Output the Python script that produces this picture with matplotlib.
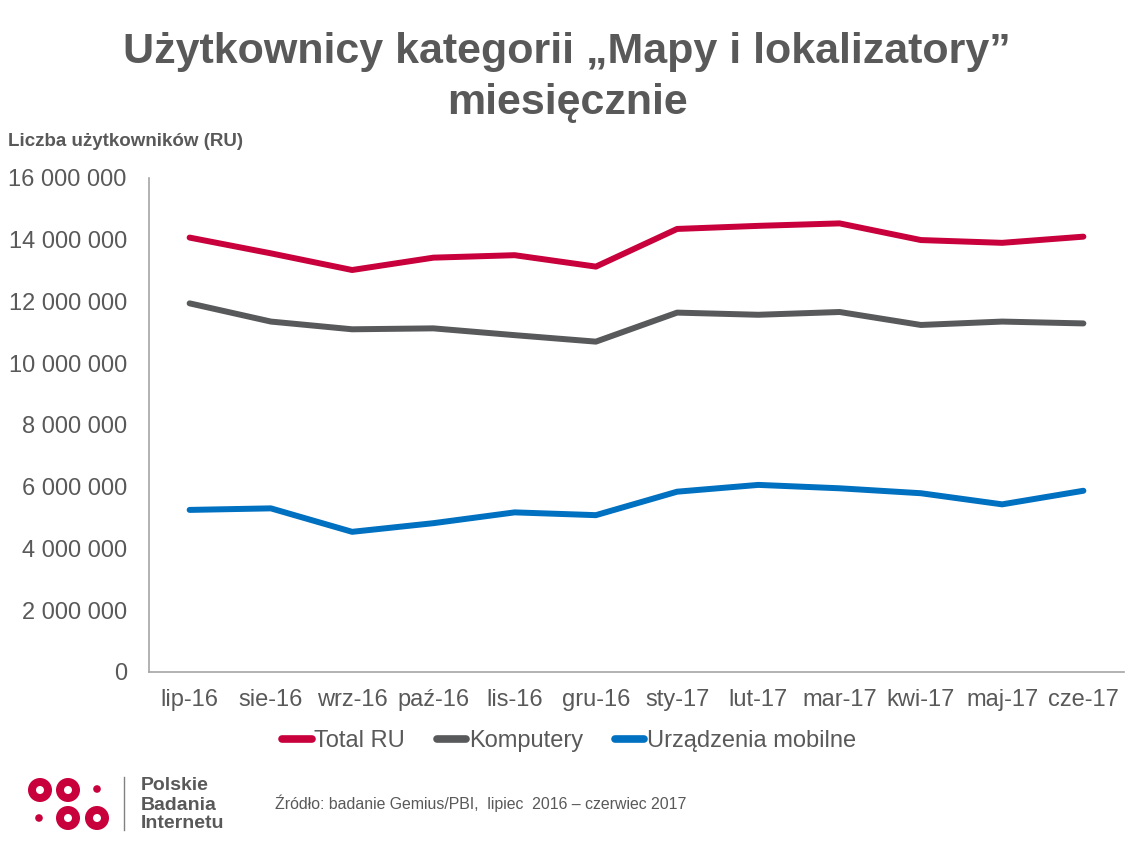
import matplotlib
matplotlib.use("Agg")
import matplotlib.pyplot as plt
from matplotlib.patches import Circle
from matplotlib.lines import Line2D
from matplotlib.ticker import FuncFormatter, MultipleLocator

months = ["lip-16", "sie-16", "wrz-16", "paź-16", "lis-16", "gru-16",
          "sty-17", "lut-17", "mar-17", "kwi-17", "maj-17", "cze-17"]
total_ru = [14.07, 13.56, 13.02, 13.42, 13.50, 13.13,
            14.35, 14.45, 14.53, 13.99, 13.90, 14.10]
komputery = [11.94, 11.35, 11.10, 11.13, 10.91, 10.70,
             11.64, 11.57, 11.66, 11.24, 11.35, 11.29]
mobilne = [5.25, 5.30, 4.54, 4.82, 5.17, 5.08,
           5.84, 6.06, 5.95, 5.79, 5.43, 5.87]
series_names = ["Total RU", "Komputery", "Urządzenia mobilne"]
colors = ["#C8003C", "#58595B", "#0070C0"]

plt.rcParams['font.family'] = ['Liberation Sans', 'DejaVu Sans']
TXT = "#595959"

W, H = 1136, 852
fig = plt.figure(figsize=(W / 100, H / 100), dpi=100)
ax = fig.add_axes([149 / W, 1 - 672 / H, (1124 - 149) / W, (672 - 178) / H])

x = list(range(len(months)))
for vals, c, n in zip([total_ru, komputery, mobilne], colors, series_names):
    ax.plot(x, [v * 1e6 for v in vals], color=c, lw=4.3, label=n,
            solid_capstyle="round", solid_joinstyle="round")

ax.set_xlim(-0.5, len(months) - 0.5)
ax.set_ylim(0, 16e6)
ax.yaxis.set_major_locator(MultipleLocator(2e6))
ax.yaxis.set_major_formatter(FuncFormatter(lambda v, p: f"{int(v):,}".replace(",", " ")))
ax.set_xticks(x)
ax.set_xticklabels(months)
for s in ["top", "right"]:
    ax.spines[s].set_visible(False)
for s in ["left", "bottom"]:
    ax.spines[s].set_color("#A6A6A6")
    ax.spines[s].set_linewidth(1.2)
ax.tick_params(axis="both", length=0, labelsize=17, colors=TXT)
ax.tick_params(axis="y", pad=16)
ax.tick_params(axis="x", pad=12)

handles = [Line2D([0], [0], color=c, lw=5.5, solid_capstyle="round") for c in colors]
leg = fig.legend(handles, series_names, loc="center", bbox_to_anchor=(569 / W, 1 - 741 / H),
                 ncol=3, frameon=False, fontsize=17, handlelength=1.25, handletextpad=0.1,
                 columnspacing=1.35)
for t in leg.get_texts():
    t.set_color(TXT)

fig.text(567 / W, 1 - 52 / H, "Użytkownicy kategorii „Mapy i lokalizatory”", ha="center",
         va="center", fontsize=31, fontweight="bold", color=TXT)
fig.text(567 / W, 1 - 103 / H, "miesięcznie", ha="center", va="center", fontsize=31,
         fontweight="bold", color=TXT)
fig.text(8 / W, 1 - 141 / H, "Liczba użytkowników (RU)", ha="left", va="center",
         fontsize=13.5, fontweight="bold", color=TXT)
fig.text(275 / W, 1 - 803 / H, "Źródło: badanie Gemius/PBI,  lipiec  2016 – czerwiec 2017",
         ha="left", va="center", fontsize=11.4, color=TXT)

# logo
lax = fig.add_axes([0, 0, 1, 1], facecolor="none")
lax.set_xlim(0, W)
lax.set_ylim(H, 0)
lax.axis("off")
red = "#C8003C"
for cx, cy in [(40, 790), (68, 790), (68, 818), (97, 818)]:
    lax.add_patch(Circle((cx, cy), 12, color=red, lw=0))
    lax.add_patch(Circle((cx, cy), 4, color="white", lw=0))
for cx, cy in [(97, 789), (39, 818)]:
    lax.add_patch(Circle((cx, cy), 3.8, color=red, lw=0))
lax.plot([124, 124], [777, 830], color="#808080", lw=1)
for i, w in enumerate(["Polskie", "Badania", "Internetu"]):
    lax.text(141, 786 + i * 19, w, ha="left", va="center", fontsize=14,
             fontweight="bold", color=TXT)

fig.savefig("out.png", dpi=100)
